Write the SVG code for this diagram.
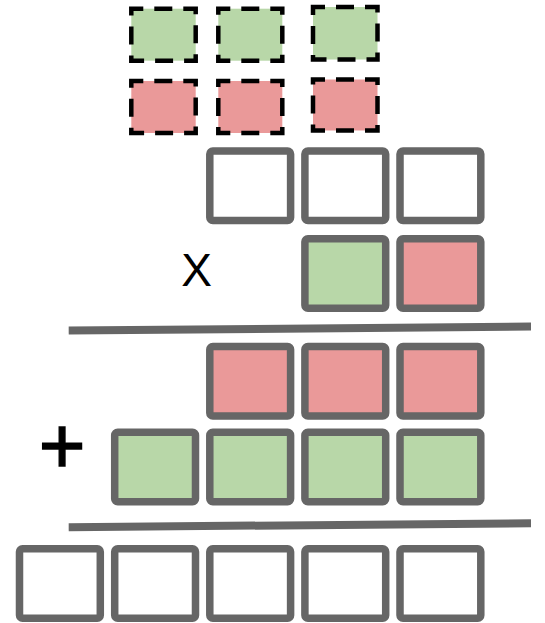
<svg xmlns="http://www.w3.org/2000/svg" width="545" height="623" viewBox="0 0 545 623">
<style>
.dash{stroke:#000;stroke-width:4.5;stroke-dasharray:18 11;stroke-dashoffset:6}
.box{stroke:#666666;stroke-width:7.5;stroke-linejoin:round}
.g{fill:#B8D7A8}
.p{fill:#EA9999}
.w{fill:#FFFFFF}
.rule{stroke:#666666;stroke-width:8;fill:none}
.lbl{font-family:"Liberation Sans",Arial,sans-serif;fill:#000}
</style>
<rect width="545" height="623" fill="#FFFFFF"/>
<g id="carry-green-1"><rect class="dash g" x="131.3" y="8.7" width="64.4" height="52"/></g>
<g id="carry-green-2"><rect class="dash g" x="218.3" y="8.7" width="64" height="52"/></g>
<g id="carry-green-3"><rect class="dash g" x="313" y="7" width="64.5" height="52.5"/></g>
<g id="carry-pink-1"><rect class="dash p" x="131.3" y="81" width="64.4" height="52"/></g>
<g id="carry-pink-2"><rect class="dash p" x="218.3" y="81" width="64" height="52"/></g>
<g id="carry-pink-3"><rect class="dash p" x="313" y="79.5" width="64.5" height="51"/></g>

<g id="top-1"><rect class="box w" x="209.8" y="151" width="80.8" height="69.5" rx="3"/></g>
<g id="top-2"><rect class="box w" x="304.9" y="151" width="80.8" height="69.5" rx="3"/></g>
<g id="top-3"><rect class="box w" x="400" y="151" width="80.8" height="69.5" rx="3"/></g>

<g id="times-label"><text class="lbl" x="196.6" y="285.7" font-size="46" text-anchor="middle">X</text></g>
<g id="mult-green"><rect class="box g" x="304.9" y="238.8" width="80.8" height="69.5" rx="3"/></g>
<g id="mult-pink"><rect class="box p" x="400" y="238.8" width="80.8" height="69.5" rx="3"/></g>

<g id="pp1-1"><rect class="box p" x="209.8" y="346.5" width="80.8" height="69.5" rx="3"/></g>
<g id="pp1-2"><rect class="box p" x="304.9" y="346.5" width="80.8" height="69.5" rx="3"/></g>
<g id="pp1-3"><rect class="box p" x="400" y="346.5" width="80.8" height="69.5" rx="3"/></g>

<g id="plus-label"><text class="lbl" x="62" y="472.7" font-size="80" text-anchor="middle" stroke="#000" stroke-width="1.4">+</text></g>
<g id="pp2-1"><rect class="box g" x="114.7" y="432.2" width="80.8" height="69.5" rx="3"/></g>
<g id="pp2-2"><rect class="box g" x="209.8" y="432.2" width="80.8" height="69.5" rx="3"/></g>
<g id="pp2-3"><rect class="box g" x="304.9" y="432.2" width="80.8" height="69.5" rx="3"/></g>
<g id="pp2-4"><rect class="box g" x="400" y="432.2" width="80.8" height="69.5" rx="3"/></g>

<g id="res-1"><rect class="box w" x="19.5" y="548.8" width="80.8" height="69.5" rx="3"/></g>
<g id="res-2"><rect class="box w" x="114.7" y="548.8" width="80.8" height="69.5" rx="3"/></g>
<g id="res-3"><rect class="box w" x="209.8" y="548.8" width="80.8" height="69.5" rx="3"/></g>
<g id="res-4"><rect class="box w" x="304.9" y="548.8" width="80.8" height="69.5" rx="3"/></g>
<g id="res-5"><rect class="box w" x="400" y="548.8" width="80.8" height="69.5" rx="3"/></g>

<g id="connectors">
<line class="rule" x1="68.7" y1="330.5" x2="531" y2="326.5"/>
<line class="rule" x1="68.7" y1="527.2" x2="531" y2="523.3"/>
</g>
</svg>
